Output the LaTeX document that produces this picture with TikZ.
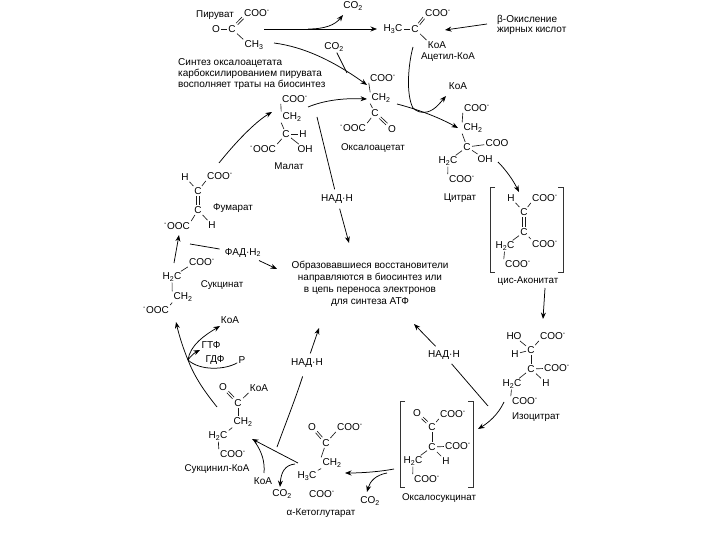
\documentclass[tikz,border=0pt]{standalone}
\usepackage{fontspec}
\setmainfont{Liberation Sans}
\usetikzlibrary{arrows.meta}
\newcommand{\A}[3]{\node[atom] (#1) at (#2) {#3};}
\newcommand{\Lb}[3]{\node[lbl] (#1) at (#2) {#3};}
\newcommand{\DB}[4]{\draw[bond,transform canvas={shift={(#3pt,#4pt)}}] (#1)--(#2);\draw[bond,transform canvas={shift={(-#3pt,-#4pt)}}] (#1)--(#2);}
\newcommand{\coom}{COO\textsuperscript{-}}
\newcommand{\moc}{\textsuperscript{-}OOC}
\newcommand{\chh}{CH\textsubscript{2}}
\newcommand{\hhc}{H\textsubscript{2}C}
\newcommand{\co}{CO\textsubscript{2}}
\begin{document}
\begin{tikzpicture}[x=1pt,y=-1pt,
  atom/.style={inner sep=1.2pt,font=\fontsize{10}{11}\selectfont,text=black},
  lbl/.style={inner sep=1.2pt,font=\fontsize{9.8}{11}\selectfont,text=black},
  para/.style={inner sep=0pt,align=center,font=\fontsize{10}{12}\selectfont,text=black},
  bond/.style={line width=.65pt,black!90},
  rx/.style={line width=.75pt,black},
  arr/.style={rx,-{Stealth[length=6.5pt,width=5pt]}},
  gapa/.style={shorten <=4pt},
  gapb/.style={shorten >=4pt},
  brk/.style={line width=.9pt,black!80}]
\useasboundingbox (0,0) rectangle (720,540);
\fill[white] (0,0) rectangle (720,540);
% Pyruvate
\Lb{pn}{215,15}{Пируват}
\A{pcoo}{257,13}{\coom}
\A{po}{216,29}{O}
\A{pc}{232,29}{C}
\A{pch}{254,45}{CH\textsubscript{3}}
\draw[bond] (po)--(pc); \DB{pc}{pcoo.south west}{.8}{-.8} \draw[bond] (pc)--(pch.north west);
\A{co1}{353,6}{\co}
\A{co2}{334,47}{\co}
\node[para,align=left,anchor=west] (syn) at (178,74) {Синтез оксалоацетата\\[-1.2pt]карбоксилированием пирувата\\[-1.2pt]восполняет траты на биосинтез};
% Acetyl-CoA
\A{ah}{393,29}{H\textsubscript{3}C}
\A{ac}{415,29}{C}
\A{acoo}{438,13}{\coom}
\A{ak}{437,45}{КоА}
\Lb{an}{448,57}{Ацетил-КоА}
\draw[bond] (ah)--(ac); \DB{ac}{acoo.south west}{.8}{-.8} \draw[bond] (ac)--(ak.north west);
\node[para,align=left,anchor=west] (box) at (497,25) {β-Окисление\\[-1.5pt]жирных кислот};
\A{kb1}{458,86}{КоА}
% Oxaloacetate
\A{ocoo}{383,78}{\coom}
\A{och}{381,98}{\chh}
\A{oc}{375,113}{C}
\A{ooc}{353,128}{\moc}
\A{oo}{392,129}{O}
\Lb{on}{373,148}{Оксалоацетат}
\draw[bond] (ocoo.south west)--(och.north west); \draw[bond] (och.south west)--(oc); \draw[bond] (oc)--(ooc.north east); \DB{oc}{oo}{.8}{.8}
% Malate
\A{mcoo}{295,99}{\coom}
\A{mch}{292,117}{\chh}
\A{mc}{286,134}{C}
\A{mh}{303,134}{H}
\A{mooc}{263,149}{\moc}
\A{moh}{305,149}{OH}
\Lb{mn}{289,166}{Малат}
\draw[bond] (mcoo.south west)--(mch.north west); \draw[bond] (mch.south west)--(mc); \draw[bond] (mc)--(mh); \draw[bond] (mc)--(mooc.north east); \draw[bond] (mc)--(moh);
% Citrate
\A{ccoo}{477,108}{\coom}
\A{cch}{473,128}{\chh}
\A{cc}{467,147}{C}
\A{cco2}{497,143}{COO}
\A{chc}{448,161}{\hhc}
\A{coh}{485,159}{OH}
\A{ccoo3}{462,179}{\coom}
\Lb{cn}{460,198}{Цитрат}
\draw[bond] (ccoo.south west)--(cch.north west); \draw[bond] (cch.south west)--(cc); \draw[bond] (cc)--(cco2); \draw[bond] (cc)--(chc); \draw[bond] (cc)--(coh); \draw[bond] (chc)--(ccoo3.north west);
% cis-Aconitate
\A{xh}{511,198}{H}
\A{xcoo}{545,198}{\coom}
\A{xc1}{524,212}{C}
\A{xc2}{524,232}{C}
\A{xhc}{505,246}{\hhc}
\A{xcoo2}{545,244}{\coom}
\A{xcoo3}{518,264}{\coom}
\Lb{xn}{528,281}{цис-Аконитат}
\draw[bond] (xh)--(xc1); \draw[bond] (xc1)--(xcoo.south west); \DB{xc1}{xc2}{1.2}{0} \draw[bond] (xc2)--(xhc); \draw[bond] (xc2)--(xcoo2.north west); \draw[bond] (xhc)--(xcoo3.north west);
\draw[brk] (495,187)--(490,187)--(490,272)--(495,272);
\draw[brk] (558,187)--(563,187)--(563,272)--(558,272);
% Isocitrate
\A{ihoo}{514,336}{HO}
\A{icoo}{553,336}{\coom}
\A{ih}{515,354}{H}
\A{ic}{531,350}{C}
\A{ic2}{531,369}{C}
\A{icoo2}{557,368}{\coom}
\A{ih2}{546,383}{H}
\A{ihc}{512,384}{H\textsubscript{2}C}
\A{icoo3}{525,401}{\coom}
\Lb{in}{536,417}{Изоцитрат}
\draw[bond] (ihoo)--(ic); \draw[bond] (ic)--(icoo.south west); \draw[bond] (ih)--(ic); \draw[bond] (ic)--(ic2); \draw[bond] (ic2)--(icoo2); \draw[bond] (ic2)--(ih2); \draw[bond] (ic2)--(ihc); \draw[bond] (ihc)--(icoo3.north west);
% Oxalosuccinate
\A{so}{417,413}{O}
\A{scoo}{453,414}{\coom}
\A{sc}{432,427}{C}
\A{sc2}{432,447}{C}
\A{scoo2}{458,446}{\coom}
\A{shc}{413,461}{\hhc}
\A{sh}{446,461}{H}
\A{scoo3}{427,479}{\coom}
\Lb{sn}{439,498}{Оксалосукцинат}
\DB{so}{sc}{.8}{.8} \draw[bond] (sc)--(scoo.south west); \draw[bond] (sc)--(sc2); \draw[bond] (sc2)--(scoo2); \draw[bond] (sc2)--(shc); \draw[bond] (sc2)--(sh); \draw[bond] (shc)--(scoo3.north west);
\draw[brk] (405,401)--(400,401)--(400,487)--(405,487);
\draw[brk] (468,401)--(473,401)--(473,487)--(468,487);
\A{co4}{370,501}{\co}
% Ketoglutarate
\A{ko}{312,427}{O}
\A{kcoo}{350,427}{\coom}
\A{kc}{326,443}{C}
\A{kch}{332,463}{\chh}
\A{khc}{307,476}{H\textsubscript{3}C}
\A{kcoo2}{322,494}{\coom}
\Lb{kn}{321,513}{α-Кетоглутарат}
\DB{ko}{kc}{.8}{.8} \draw[bond] (kc)--(kcoo.south west); \draw[bond] (kc)--(kch.north west); \draw[bond] (kch.south west)--(khc.north east);
\A{co3}{282,494}{\co}
\A{kb3}{263,481}{КоА}
% Succinyl-CoA
\A{yo}{223,387}{O}
\A{yk}{259,388}{КоА}
\A{yc}{238,403}{C}
\A{ych}{243,422}{\chh}
\A{yhc}{218,436}{\hhc}
\A{ycoo}{233,454}{\coom}
\Lb{yn}{217,469}{Сукцинил-КоА}
\DB{yo}{yc}{.8}{.8} \draw[bond] (yc)--(yk.south west); \draw[bond] (yc)--(yc|-ych.north); \draw[bond] (ych.south west)--(yhc.north east); \draw[bond] (yhc)--(ycoo.north west);
% Succinate
\A{ucoo}{202,262}{\coom}
\A{uhc}{172,277}{\hhc}
\A{uch}{183,297}{\chh}
\A{uooc}{156,310}{\moc}
\Lb{un}{222,285}{Сукцинат}
\draw[bond] (uhc)--(ucoo.south west); \draw[bond] (uhc)--(uch.north west); \draw[bond] (uch.south west)--(uooc.north east);
% Fumarate
\A{fh}{185,177}{H}
\A{fcoo}{220,176}{\coom}
\A{fc}{198,191}{C}
\A{fc2}{198,210}{C}
\A{fooc}{177,226}{\moc}
\A{fh2}{212,225}{H}
\Lb{fn}{233,208}{Фумарат}
\draw[bond] (fh)--(fc); \draw[bond] (fc)--(fcoo.south west); \DB{fc}{fc2}{1.2}{0} \draw[bond] (fc2)--(fooc.north east); \draw[bond] (fc2)--(fh2);
% Labels
\A{nad1}{337,199}{НАД·Н}
\A{nad2}{444,355}{НАД·Н}
\A{nad3}{307,363}{НАД·Н}
\A{fad}{243,253}{ФАД·Н\textsubscript{2}}
\A{kb2}{230,320}{КоА}
\A{gtp}{211,345}{ГТФ}
\A{gdp}{215,360}{ГДФ}
\A{pi}{242,360}{Р}
\node[para] (cen) at (370,284) {Образовавшиеся восстановители\\направляются в биосинтез или\\в цепь переноса электронов\\для синтеза АТФ};
% Reaction arrows: top
\coordinate (a1) at (264,29); \coordinate (a2) at (377,29); \coordinate (a3) at (308,29); \coordinate (a4) at (343,15);
\draw[arr] (a1)--(a2);
\draw[arr] (a3) .. controls (325,29) and (335,25) .. (a4);
\coordinate (b1) at (274,43); \coordinate (b2) at (367,85); \coordinate (b3) at (347,73);
\draw[arr] (b1) .. controls (305,47) and (335,62) .. (b2);
\draw[rx] (co2) -- (b3);
\coordinate (c1) at (487,24); \coordinate (c2) at (445,30);
\draw[arr] (c1)--(c2);
\coordinate (d1) at (413,47); \coordinate (d2) at (413,108); \coordinate (d3) at (427,112); \coordinate (d4) at (446,96);
\draw[arr] (d1) .. controls (408,65) and (406,95) .. (d2) .. controls (417,112) and (422,113) .. (d3) .. controls (435,110) and (440,103) .. (d4);
\coordinate (e1) at (397,104); \coordinate (e2) at (458,128);
\draw[arr] (e1) .. controls (420,110) and (440,118) .. (e2);
\coordinate (f1) at (498,162); \coordinate (f2) at (519,192);
\draw[arr] (f1) .. controls (506,170) and (513,180) .. (f2);
\coordinate (g1) at (545,288); \coordinate (g2) at (543,319);
\draw[arr] (g1)--(g2);
\coordinate (h1) at (504,402); \coordinate (h2) at (478,429);
\draw[arr] (h1) .. controls (498,415) and (488,423) .. (h2);
\coordinate (i1) at (488,406);
\draw[rx,gapb] (i1)--(nad2);
\coordinate (i2) at (414,324);
\draw[arr,gapa] (nad2)--(i2);
\coordinate (j1) at (394,469); \coordinate (j2) at (345,473); \coordinate (j3) at (387,473); \coordinate (j4) at (367,492);
\draw[arr] (j1) .. controls (378,472) and (360,473) .. (j2);
\draw[arr] (j3) .. controls (376,475) and (370,481) .. (j4);
\coordinate (k1) at (298,463); \coordinate (k2) at (252,439); \coordinate (k3) at (295,464); \coordinate (k4) at (280,487); \coordinate (k5) at (264,473); \coordinate (k6) at (255,442);
\draw[arr] (k1)--(k2);
\draw[arr] (k3) .. controls (285,465) and (281,472) .. (k4);
\draw[rx] (k5) .. controls (265,462) and (262,452) .. (k6);
\coordinate (l1) at (277,447); \coordinate (l2) at (319,328);
\draw[rx,shorten >=8pt] (l1) .. controls (285,425) and (295,400) .. (nad3);
\draw[arr,gapa] (nad3)--(l2);
\coordinate (m1) at (217,407); \coordinate (m2) at (188,360); \coordinate (m3) at (176,322); \coordinate (m4) at (220,326); \coordinate (m5) at (200,350);
\draw[arr] (m1) .. controls (205,392) and (195,378) .. (m2) .. controls (183,348) and (179,335) .. (m3);
\draw[arr] (m2) .. controls (190,345) and (205,335) .. (m4);
\draw[arr] (m2) .. controls (190,357) and (194,353) .. (m5);
\draw[rx] (pi) .. controls (225,370) and (200,371) .. (m2);
\coordinate (n1) at (174,263); \coordinate (n2) at (179,235);
\draw[arr] (n1)--(n2);
\coordinate (o1) at (190,244); \coordinate (o2) at (277,269);
\draw[rx,gapb] (o1)--(fad);
\draw[arr,gapa] (fad)--(o2);
\coordinate (q1) at (219,163); \coordinate (q2) at (272,112);
\draw[arr] (q1) .. controls (235,143) and (255,122) .. (q2);
\coordinate (r1) at (308,107); \coordinate (r2) at (367,99);
\draw[arr] (r1) .. controls (325,100) and (345,98) .. (r2);
\coordinate (s1) at (317,117); \coordinate (s2) at (349,243);
\draw[rx,gapb] (s1)--(nad1);
\draw[arr,gapa] (nad1)--(s2);
\end{tikzpicture}
\end{document}
